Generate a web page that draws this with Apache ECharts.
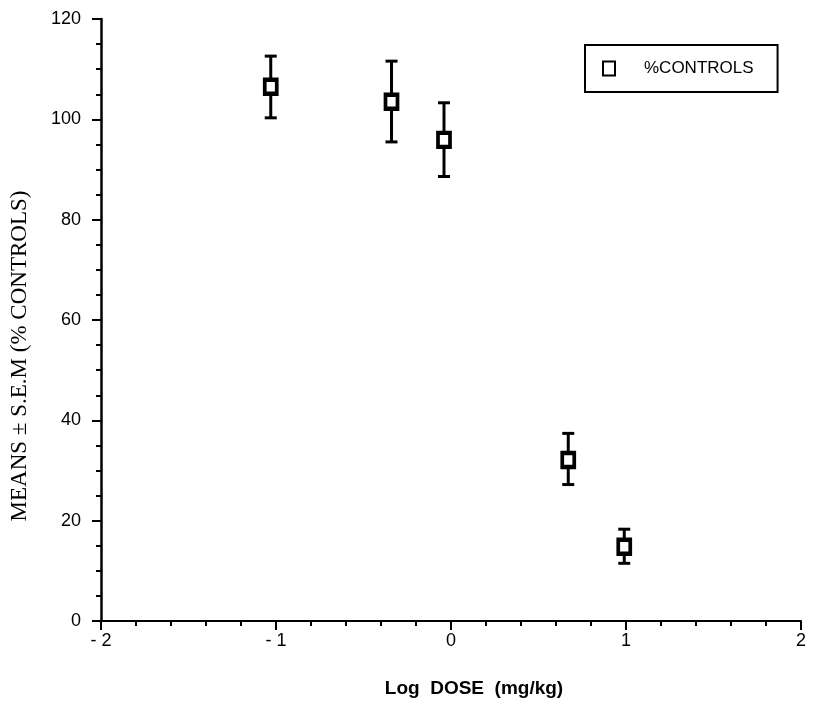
<!DOCTYPE html>
<html>
<head>
<meta charset="utf-8">
<script src="https://cdn.jsdelivr.net/npm/echarts@6/dist/echarts.min.js"></script>
<style>
  html, body { margin: 0; padding: 0; background: #fff; }
  #chart { width: 814px; height: 708px; }
</style>
</head>
<body>
<div id="chart"></div>
<script>
// Dose-response: log dose vs. mean response as % of controls, with S.E.M. bars
const logDose = [-1.03, -0.34, -0.04, 0.67, 0.99];
const meanPct = [106.5, 103.5, 95.9, 32.1, 14.8];
const semLow  = [100.3, 95.5, 88.6, 27.2, 11.5];
const semHigh = [112.6, 111.6, 103.3, 37.4, 18.3];
const xTicks = [-2, -1, 0, 1, 2];
const yTicks = [0, 20, 40, 60, 80, 100, 120];
const seriesName = '%CONTROLS';

const points = logDose.map((x, i) => [x, meanPct[i]]);
const bars = logDose.map((x, i) => [x, semLow[i], semHigh[i]]);

const chart = echarts.init(document.getElementById('chart'), null, { renderer: 'canvas' });

const tickFont = 'Liberation Sans, Arial, sans-serif';

chart.setOption({
  animation: false,
  backgroundColor: '#fff',
  grid: { left: 101, right: 13, top: 19, bottom: 87, containLabel: false },
  legend: {
    data: [seriesName],
    left: 585,
    top: 45,
    orient: 'horizontal',
    borderColor: '#000',
    borderWidth: 2,
    borderRadius: 0,
    padding: [15, 24, 15, 17],
    itemWidth: 12,
    itemHeight: 14,
    textStyle: {
      fontFamily: 'Liberation Sans Narrow, Liberation Sans, Arial, sans-serif',
      fontSize: 17,
      color: '#000',
      padding: [0, 0, 0, 24]
    }
  },
  xAxis: {
    type: 'value',
    min: xTicks[0],
    max: xTicks[xTicks.length - 1],
    interval: 1,
    name: 'Log  DOSE  (mg/kg)',
    nameLocation: 'middle',
    nameGap: 58,
    nameTextStyle: {
      fontFamily: tickFont, fontWeight: 'bold', fontSize: 19, color: '#000',
      padding: [0, 0, 0, 46]
    },
    axisLine: { onZero: false, lineStyle: { color: '#000', width: 2 } },
    axisTick: { show: true, inside: false, length: 9, lineStyle: { color: '#000', width: 2 } },
    minorTick: { show: true, splitNumber: 5, length: 5, lineStyle: { color: '#000', width: 2 } },
    splitLine: { show: false },
    axisLabel: {
      margin: 11,
      fontFamily: tickFont, fontSize: 18, color: '#000',
      formatter: v => (v < 0 ? '- ' + Math.abs(v) : String(v))
    }
  },
  yAxis: {
    type: 'value',
    min: yTicks[0],
    max: yTicks[yTicks.length - 1],
    interval: 20,
    name: 'MEANS \u00B1 S.E.M (% CONTROLS)',
    nameLocation: 'middle',
    nameRotate: 90,
    nameGap: 70,
    nameTextStyle: {
      fontFamily: 'Liberation Serif, Times New Roman, serif', fontSize: 23, color: '#000',
      padding: [0, 72, 0, 0]
    },
    axisLine: { show: true, onZero: false, lineStyle: { color: '#000', width: 2.5 } },
    axisTick: { show: true, inside: false, length: 9, lineStyle: { color: '#000', width: 2 } },
    minorTick: { show: true, splitNumber: 4, length: 5, lineStyle: { color: '#000', width: 2 } },
    splitLine: { show: false },
    axisLabel: { margin: 20, fontFamily: tickFont, fontSize: 18, color: '#000' }
  },
  series: [
    {
      name: 'S.E.M',
      type: 'custom',
      data: bars,
      z: 2,
      renderItem: function (params, api) {
        const x = api.value(0);
        const lo = api.coord([x, api.value(1)]);
        const hi = api.coord([x, api.value(2)]);
        const cap = 6;
        const style = { stroke: '#000', lineWidth: 3, fill: null };
        return {
          type: 'group',
          children: [
            { type: 'line', shape: { x1: hi[0], y1: hi[1], x2: lo[0], y2: lo[1] }, style: style },
            { type: 'line', shape: { x1: hi[0] - cap, y1: hi[1], x2: hi[0] + cap, y2: hi[1] }, style: style },
            { type: 'line', shape: { x1: lo[0] - cap, y1: lo[1], x2: lo[0] + cap, y2: lo[1] }, style: style }
          ]
        };
      }
    },
    {
      name: seriesName,
      type: 'scatter',
      data: points,
      z: 3,
      symbol: 'rect',
      symbolSize: [12, 14],
      itemStyle: { color: '#fff', borderColor: '#000', borderWidth: 4, opacity: 1 }
    }
  ]
});
</script>
</body>
</html>
